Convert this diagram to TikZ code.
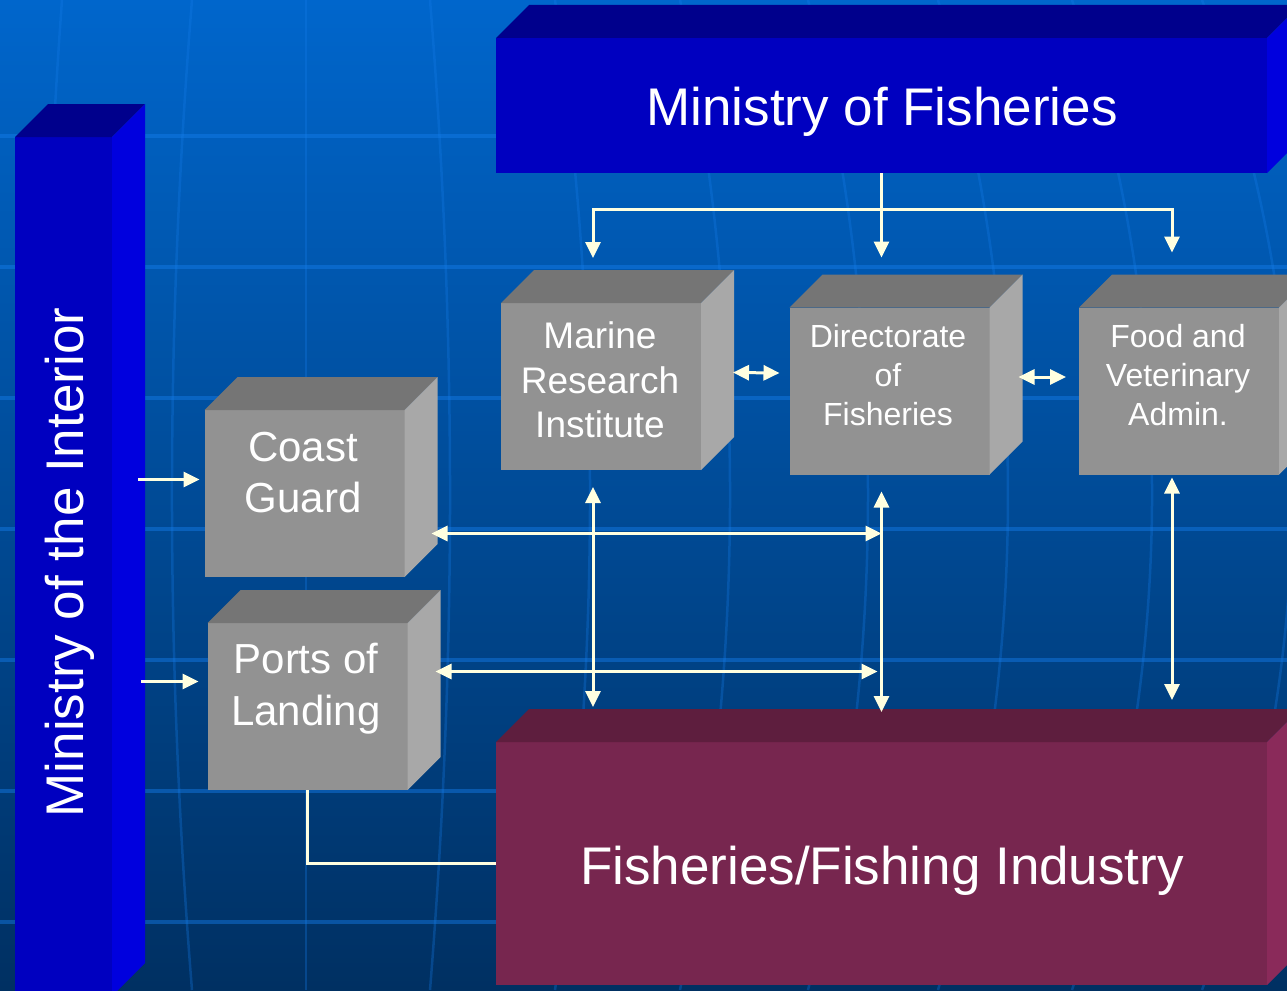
\documentclass[tikz,border=0pt]{standalone}
\usepackage{fontspec}
\setmainfont{Liberation Sans}
\usetikzlibrary{arrows.meta}

\definecolor{bgtop}{RGB}{0,102,204}
\definecolor{bgbottom}{RGB}{0,48,98}
\definecolor{gridline}{RGB}{20,125,235}
\definecolor{navyfront}{RGB}{0,0,192}
\definecolor{navytop}{RGB}{0,0,140}
\definecolor{navyside}{RGB}{0,0,222}
\definecolor{greyfront}{RGB}{146,146,146}
\definecolor{greytop}{RGB}{117,117,117}
\definecolor{greyside}{RGB}{168,168,168}
\definecolor{winefront}{RGB}{119,38,79}
\definecolor{winetop}{RGB}{94,30,62}
\definecolor{wineside}{RGB}{138,42,90}
\definecolor{cream}{RGB}{255,255,224}

% top and right faces of a box node
\newcommand{\boxfaces}[3]{%
  \fill[#2] (#1.north west) -- ++(33,-33) -- ([shift={(33,-33)}]#1.north east) -- (#1.north east) -- cycle;
  \fill[#3] (#1.north east) -- ++(33,-33) -- ([shift={(33,-33)}]#1.south east) -- (#1.south east) -- cycle;}

\begin{document}
\begin{tikzpicture}[x=1pt,y=-1pt,>={Triangle[length=16pt,width=15pt]}]
\tikzstyle{facebox}=[rectangle,inner sep=0pt,outer sep=0pt]
\tikzstyle{greybox}=[facebox,fill=greyfront,minimum width=200pt,minimum height=167pt]
\tikzstyle{navybox}=[facebox,fill=navyfront]
\tikzstyle{winebox}=[facebox,fill=winefront]
\tikzstyle{boxtext}=[text=white,align=center,inner sep=0pt]
\tikzstyle{link}=[cream,line width=3pt]
\tikzstyle{gridrule}=[draw=gridline]

\useasboundingbox (0,0) rectangle (1287,990);
\clip (0,0) rectangle (1287,990);
\shade[top color=bgtop,bottom color=bgbottom] (0,0) rectangle (1287,990);
\foreach \gy in {136,267,...,922}
  \draw[gridrule,line width=3.5pt,opacity=.45] (0,\gy) -- (1287,\gy);
\foreach \xt/\xc in {62/38,192/165.3,306/306,430/456.7,555/601.7,680/746.7,808/888,938/1031.3,1072/1178.7,1202/1322}
  \draw[gridrule,line width=2.5pt,opacity=.3] (\xt,0) .. controls (\xc,330) and (\xc,660) .. (\xt,990);

\node[navybox,minimum width=97pt,minimum height=859pt] (interior) at (63.5,566.5) {};
\boxfaces{interior}{navytop}{navyside}
\node[boxtext,rotate=90,anchor=base,font=\fontsize{53}{60}\selectfont] (interiortext) at (83,562.5) {Ministry of the Interior};

\node[navybox,minimum width=771pt,minimum height=135pt] (fisheries) at (881.5,105.5) {};
\boxfaces{fisheries}{navytop}{navyside}
\node[boxtext,anchor=base,font=\fontsize{53}{60}\selectfont] (fisheriestext) at (882,125) {Ministry of Fisheries};

\node[winebox,minimum width=771pt,minimum height=243pt] (industry) at (881.5,863.5) {};
\boxfaces{industry}{winetop}{wineside}
\node[boxtext,anchor=base,font=\fontsize{53}{60}\selectfont] (industrytext) at (882,884) {Fisheries/Fishing Industry};

\node[greybox] (marine) at (601,386.5) {};
\boxfaces{marine}{greytop}{greyside}
\node[boxtext,font=\fontsize{37}{44.5}\selectfont] (marinetext) at (600,380) {Marine\\Research\\Institute};

\node[greybox] (directorate) at (889.5,391) {};
\boxfaces{directorate}{greytop}{greyside}
\node[boxtext,font=\fontsize{32}{39}\selectfont] (directoratetext) at (888,375.5) {Directorate\\of\\Fisheries};

\node[greybox] (food) at (1179,391) {};
\boxfaces{food}{greytop}{greyside}
\node[boxtext,font=\fontsize{32}{39}\selectfont] (foodtext) at (1178,375.5) {Food and\\Veterinary\\Admin.};

\node[greybox] (coast) at (304.5,493.5) {};
\boxfaces{coast}{greytop}{greyside}
\node[boxtext,font=\fontsize{42}{51}\selectfont] (coasttext) at (303,472.5) {Coast\\Guard};

\node[greybox] (ports) at (307.5,706.5) {};
\boxfaces{ports}{greytop}{greyside}
\node[boxtext,font=\fontsize{42}{52}\selectfont] (portstext) at (306,688.5) {Ports of\\Landing};

\draw[link] (fisheries.south) -- ++(0,36) coordinate (hub);
\draw[link,->] (hub) -| ([xshift=-8pt,yshift=45pt]marine.north);
\draw[link,->] (hub) -- ([yshift=50pt]directorate.north -| hub);
\draw[link,->] (hub) -| ([xshift=-7pt,yshift=55pt]food.north);

\draw[link,<->] ([xshift=32pt,yshift=14pt]marine.east) -- ([xshift=-10pt,yshift=18pt]directorate.west);
\draw[link,<->] ([xshift=29pt,yshift=14pt]directorate.east) -- ([xshift=-13pt,yshift=14pt]food.west);

\coordinate (vM) at ([xshift=-8pt]marine.south);
\coordinate (vD) at ([xshift=-8pt]directorate.south);
\coordinate (vF) at ([xshift=-7pt]food.south);
\coordinate (iM) at (vM |- industry.north);
\coordinate (iD) at (vD |- industry.north);
\coordinate (iF) at (vF |- industry.north);
\draw[link,<->] ([yshift=-17pt]vM) -- ([yshift=35pt]iM);
\draw[link,<->] ([yshift=-17pt]vD) -- ([yshift=30pt]iD);
\draw[link,<->] ([yshift=-3pt]vF) -- ([yshift=42pt]iF);

\coordinate (cgL) at ([xshift=-5pt,yshift=14pt]coast.west);
\coordinate (plL) at ([xshift=-9pt,yshift=25pt]ports.west);
\draw[link,->,shorten <=26pt] (interior.east |- cgL) -- (cgL);
\draw[link,->,shorten <=29pt] (interior.east |- plL) -- (plL);

\coordinate (cgR) at ([xshift=27pt,yshift=-40pt]coast.east);
\coordinate (plR) at ([xshift=28pt,yshift=35pt]ports.east);
\draw[link,<->] (cgR) -- (cgR -| vD);
\draw[link,<->,shorten >=4pt] (plR) -- (plR -| vD);

\draw[link] (ports.south) |- (industry.west);
\end{tikzpicture}
\end{document}
